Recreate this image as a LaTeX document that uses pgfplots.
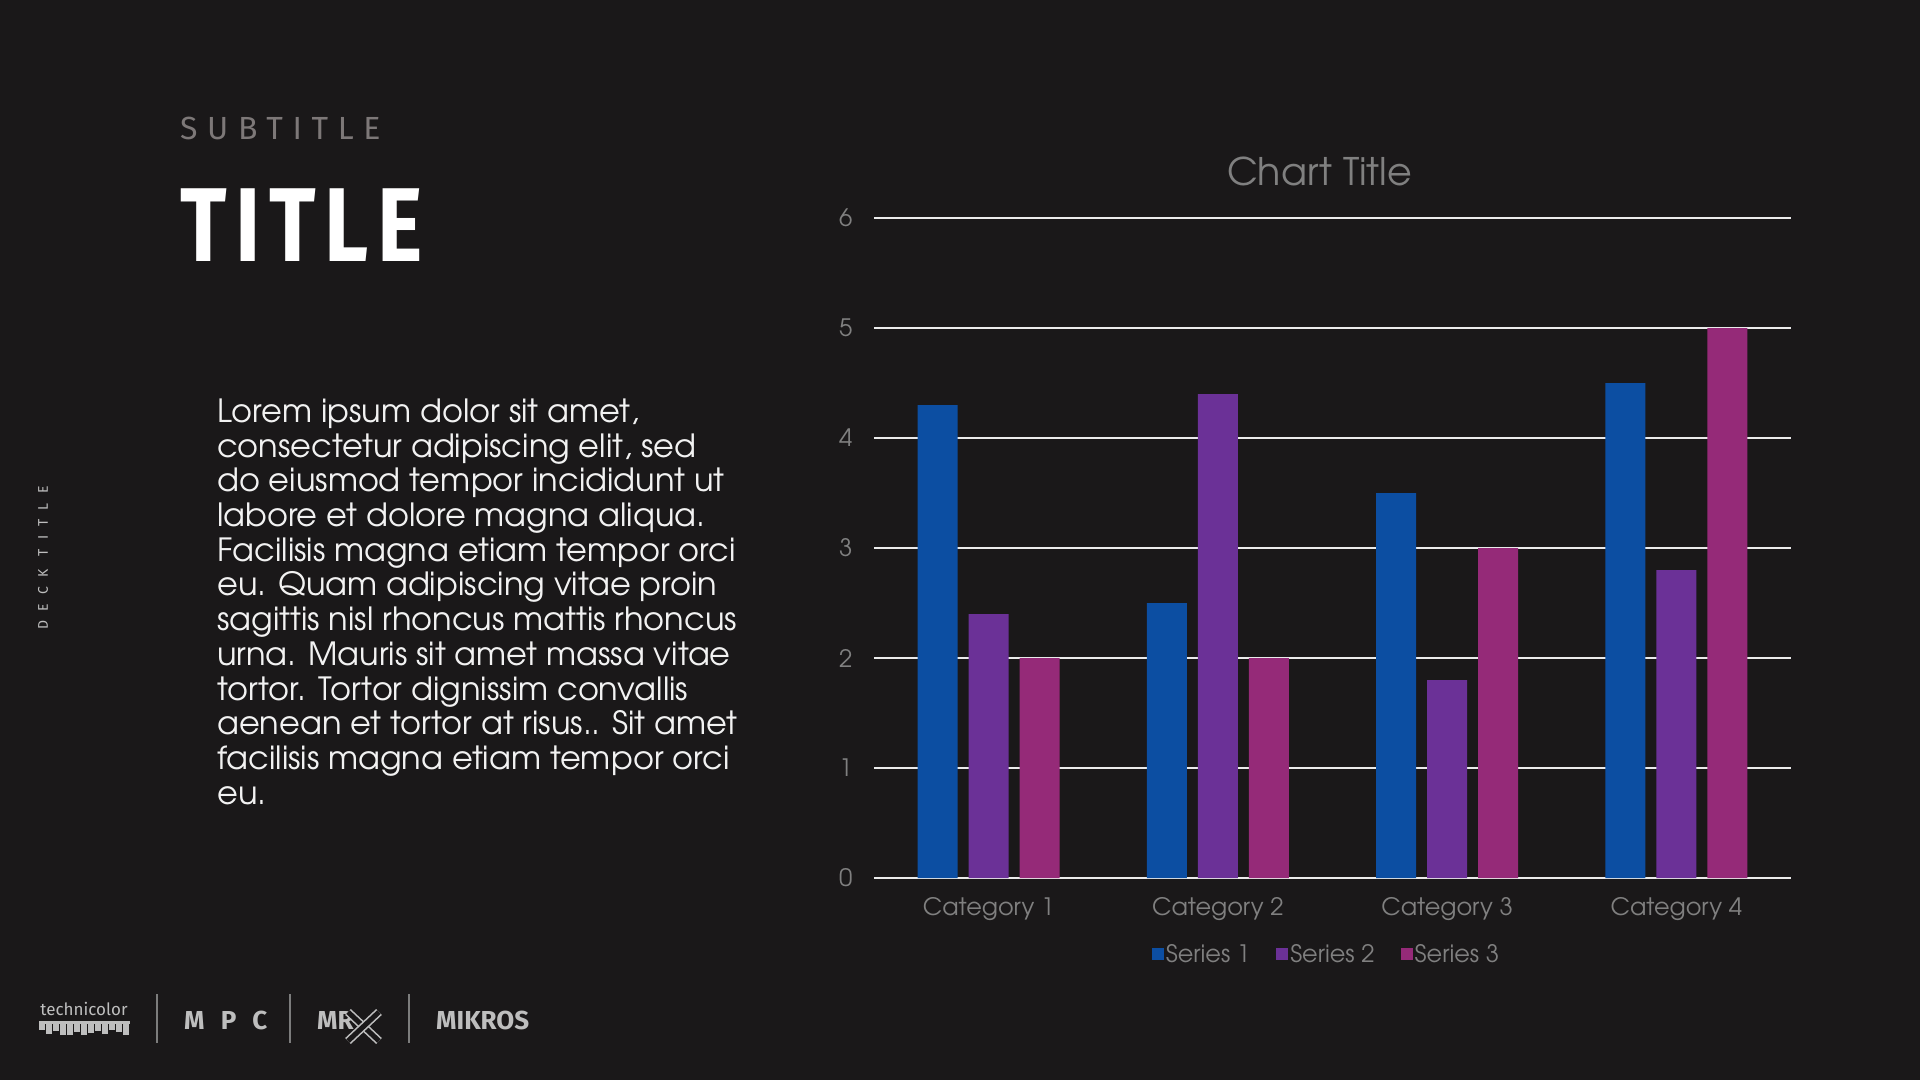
\documentclass[border=0pt]{standalone}
\usepackage{pgfplots}
\pgfplotsset{compat=1.18}
\usepackage{fontspec}
\setmainfont{TeX Gyre Adventor}
\newfontfamily\headfont{Fira Sans}

\definecolor{bg}{RGB}{26,24,25}
\definecolor{serA}{RGB}{12,78,162}
\definecolor{serB}{RGB}{107,49,151}
\definecolor{serC}{RGB}{149,42,120}
\definecolor{lbl}{RGB}{128,128,128}
\definecolor{subgrey}{RGB}{125,120,120}
\definecolor{logo}{RGB}{190,190,190}
\definecolor{gridc}{RGB}{235,235,235}
\definecolor{body}{RGB}{242,242,242}

\begin{document}
\begin{tikzpicture}[x=1pt,y=1pt]
\fill[bg] (0,0) rectangle (1920,1080);

% left column
\node[anchor=base west, inner sep=0, text=subgrey,
  font=\headfont\fontsize{32}{32}\selectfont\addfontfeatures{LetterSpace=30}]
  at (180,940) {SUBTITLE};
\node[anchor=base west, inner sep=0, text=white] at (180,818)
  {\scalebox{0.82}[1]{\headfont\bfseries\fontsize{105}{105}\selectfont\addfontfeatures{LetterSpace=10}TITLE}};
\node[rotate=90, text=logo, font=\headfont\fontsize{14}{14}\selectfont\addfontfeatures{LetterSpace=66}]
  at (43,522) {DECK TITLE};

\foreach \t [count=\i from 0] in {
  {Lorem ipsum dolor sit amet,},
  {consectetur adipiscing elit, sed},
  {do eiusmod tempor incididunt ut},
  {labore et dolore magna aliqua.},
  {Facilisis magna etiam tempor orci},
  {eu. Quam adipiscing vitae proin},
  {sagittis nisl rhoncus mattis rhoncus},
  {urna. Mauris sit amet massa vitae},
  {tortor. Tortor dignissim convallis},
  {aenean et tortor at risus.. Sit amet},
  {facilisis magna etiam tempor orci},
  {eu.}}
  \node[anchor=base west, inner sep=0, text=body, font=\fontsize{32}{34}\selectfont]
    at (217,{657.5-34.7*\i}) {\t};

% logos
\node[anchor=base, inner sep=0, text=logo, font=\headfont\fontsize{17}{17}\selectfont] at (84,65) {technicolor};
\fill[logo] (39,56) rectangle (130,59);
\foreach \b [count=\i from 0] in {50,46,49,45,45,48,45,47,49,46,50,48,45}
  \fill[logo] ({39+7*\i},56) rectangle ({39+7*\i+6},\b);
\foreach \sx in {157,290,409}
  \draw[logo!60!bg, line width=1.3pt] (\sx,86) -- (\sx,37);
\node[anchor=base west, inner sep=0, text=logo, font=\headfont\bfseries\fontsize{26}{26}\selectfont\addfontfeatures{LetterSpace=62}]
  at (184,51) {MPC};
\node[anchor=base west, inner sep=0, text=logo, font=\headfont\bfseries\fontsize{26}{26}\selectfont]
  at (317,51) {MR};
\draw[logo, line width=1.6pt, double=bg, double distance=5pt] (348,68) -- (379,39);
\draw[logo, line width=1.6pt, double=bg, double distance=5pt] (379,68) -- (348,39);
\node[anchor=base west, inner sep=0, text=logo, font=\headfont\bfseries\fontsize{26}{26}\selectfont]
  at (436,51) {MIKROS};

\begin{axis}[
  at={(874pt,202pt)}, anchor=south west,
  scale only axis, width=917pt, height=660pt,
  ybar=11pt, bar width=40pt,
  xmin=-0.5, xmax=3.5, ymin=0, ymax=6,
  xtick={0,1,2,3},
  xticklabels={Category 1,Category 2,Category 3,Category 4},
  ytick={0,1,2,3,4,5,6},
  ymajorgrids, grid style={draw=gridc, line width=1.6pt},
  axis line style={draw=none}, tick style={draw=none},
  ticklabel style={font=\fontsize{24}{28}\selectfont, text=lbl},
  xticklabel style={yshift=-12pt},
  yticklabel style={xshift=-18pt},
  /pgf/number format/assume math mode=true,
  title={Chart Title},
  title style={font=\fontsize{38}{42}\selectfont, text=lbl, anchor=base, at={(0.5,1)}, yshift=26pt, xshift=-13pt},
  legend columns=3,
  legend style={at={(0.5,-0.115)}, anchor=center, draw=none, fill=none, text=lbl,
    font=\fontsize{24}{28}\selectfont, xshift=-6pt,
    /tikz/every even column/.append style={column sep=24pt}},
  legend image code/.code={\fill[#1] (0pt,-6pt) rectangle (12pt,6pt);},
]
\addplot[fill=serA, draw=none] coordinates {(0,4.3) (1,2.5) (2,3.5) (3,4.5)};
\addplot[fill=serB, draw=none] coordinates {(0,2.4) (1,4.4) (2,1.8) (3,2.8)};
\addplot[fill=serC, draw=none] coordinates {(0,2) (1,2) (2,3) (3,5)};
\legend{Series 1,Series 2,Series 3}
\end{axis}
\end{tikzpicture}
\end{document}
